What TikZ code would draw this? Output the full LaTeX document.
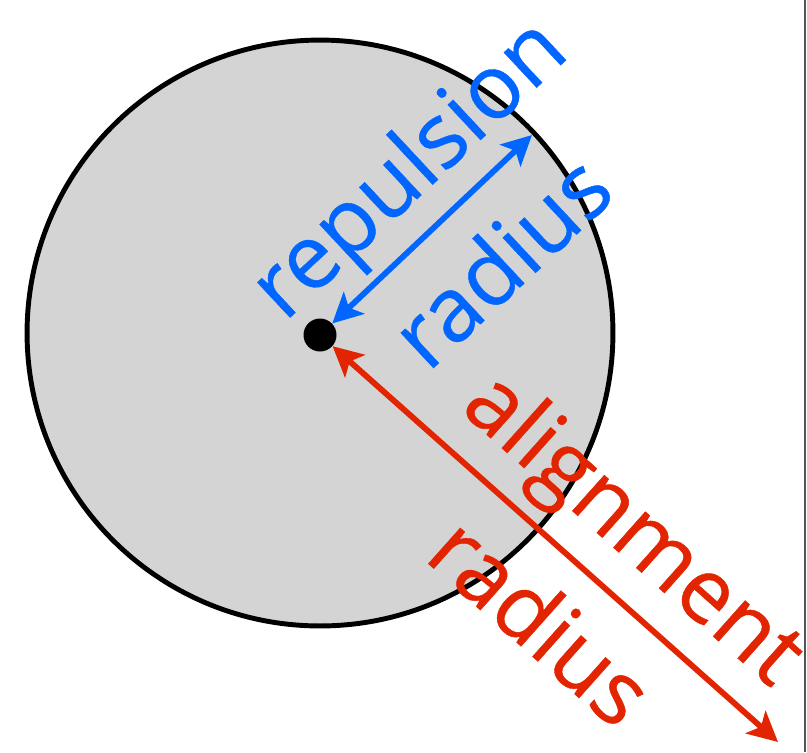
\documentclass[tikz,border=0pt]{standalone}
\usepackage{fontspec}
\setmainfont[FakeBold=0.5]{Open Sans}
\definecolor{mBlue}{HTML}{0066FF}
\definecolor{mRed}{HTML}{E22400}
\definecolor{mFill}{HTML}{D4D4D4}
\definecolor{mEdge}{HTML}{555555}
\usetikzlibrary{arrows.meta}

\begin{document}
\begin{tikzpicture}[x=0.02cm, y=-0.02cm,
    radarrow/.style={line width=3.3pt,
      {Stealth[length=17pt, width=17pt, inset=4pt]}-{Stealth[length=17pt, width=17pt, inset=4pt]}},
    biglabel/.style={font=\fontsize{51}{53}\selectfont, inner sep=0pt}]
  \useasboundingbox (0,0) rectangle (807,752);
  \draw[mEdge, line width=1.2pt] (805,0) -- (805,752);
  % zone and its centre
  \node[circle, draw, line width=2.8pt, fill=mFill, inner sep=0pt,
    minimum size=11.72cm] (zone) at (320,333) {};
  \node[circle, fill=black, inner sep=0pt, minimum size=0.66cm] (ctr) at (320,335) {};
  \coordinate (rep) at (532,135);
  \coordinate (ali) at (778,742);
  \draw[radarrow, mBlue] (ctr) -- (rep);
  \draw[radarrow, mRed] (ctr) -- (ali);
  % labels along the arrows
  \node[biglabel, mBlue, rotate=43] (replbl) at (412,172) {repulsion};
  \node[biglabel, mBlue, rotate=43] (repradius) at (500,260) {radius};
  \node[biglabel, mRed, rotate=-41.7] (alilbl) at (631,532) {alignment};
  \node[biglabel, mRed, rotate=-41.7] (aliradius) at (542,620) {radius};
\end{tikzpicture}
\end{document}
